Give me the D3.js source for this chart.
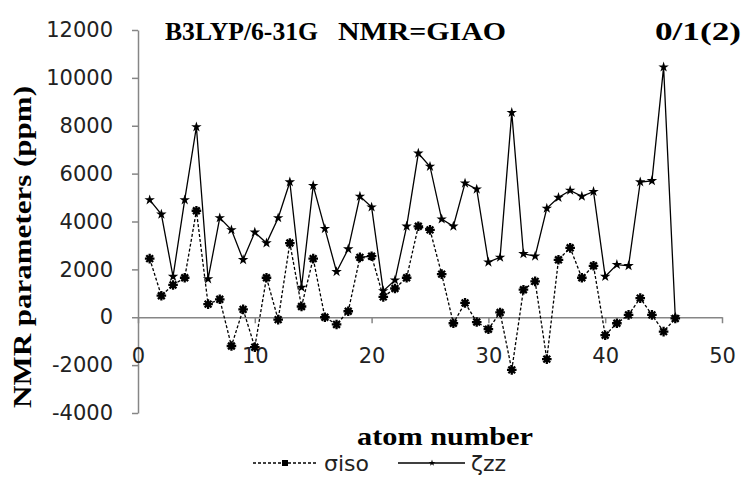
<!DOCTYPE html>
<html>
<head>
<meta charset="utf-8">
<script src="https://cdn.jsdelivr.net/npm/d3@7/dist/d3.min.js"></script>
<style>
  html, body { margin: 0; padding: 0; background: #fff; }
  svg { display: block; }
</style>
</head>
<body>
<svg id="chart" width="743" height="477"></svg>
<script>
// Atom numbers 1..46
const atoms = d3.range(1, 47);

// Isotropic shielding σiso (ppm)
const sigmaIso = [2450, 900, 1350, 1650, 4450, 550, 750, -1200, 330, -1250,
  1650, -100, 3100, 450, 2450, 0, -300, 250, 2500, 2550,
  850, 1200, 1650, 3800, 3650, 1800, -250, 600, -200, -500,
  200, -2200, 1150, 1500, -1750, 2400, 2900, 1650, 2150, -750,
  -250, 100, 800, 100, -600, -50];

// Principal component ζzz (ppm)
const zetaZZ = [4900, 4300, 1700, 4900, 7950, 1600, 4150, 3650, 2400, 3550,
  3100, 4150, 5650, 1250, 5500, 3700, 1900, 2850, 5050, 4600,
  1100, 1550, 3800, 6850, 6300, 4100, 3800, 5600, 5350, 2300,
  2500, 8550, 2650, 2550, 4550, 5000, 5300, 5050, 5250, 1700,
  2200, 2150, 5650, 5700, 10450, 0];

const xTicks = [0, 10, 20, 30, 40, 50];
const yTicks = [-4000, -2000, 0, 2000, 4000, 6000, 8000, 10000, 12000];

const titleParts = ["B3LYP/6-31G", "NMR=GIAO", "0/1(2)"];
const seriesNames = ["σiso", "ζzz"];

const svg = d3.select("#chart");
const axisColor = "#868686";
const tickFont = "'DejaVu Sans', Verdana, sans-serif";
const serif = "'Liberation Serif', 'Times New Roman', serif";
const plain = d => String(d);   // keep ASCII hyphen for negatives

const x = d3.scaleLinear().domain([0, 50]).range([138, 722]);
const y = d3.scaleLinear().domain([-4000, 12000]).range([413, 30]);

// Y axis
const yAxis = svg.append("g")
  .attr("transform", `translate(${x(0)},0)`)
  .call(d3.axisLeft(y).tickValues(yTicks).tickSize(6).tickSizeOuter(0).tickPadding(19)
    .tickFormat(plain));
yAxis.select(".domain").attr("stroke", axisColor).attr("stroke-width", 1.5);
yAxis.selectAll(".tick line").attr("stroke", axisColor).attr("stroke-width", 1.5);
yAxis.selectAll(".tick text")
  .attr("font-family", tickFont).attr("font-size", 21).attr("fill", "#222");

// X axis crossing at zero
const xAxis = svg.append("g")
  .attr("transform", `translate(0,${y(0)})`)
  .call(d3.axisBottom(x).tickValues(xTicks).tickSize(6).tickSizeOuter(0).tickPadding(25)
    .tickFormat(plain));
xAxis.select(".domain").attr("stroke", axisColor).attr("stroke-width", 1.5);
xAxis.selectAll(".tick line").attr("stroke", axisColor).attr("stroke-width", 1.5);
xAxis.selectAll(".tick text")
  .attr("font-family", tickFont).attr("font-size", 21).attr("fill", "#222");

// Series lines
const line = d3.line().x((d, i) => x(atoms[i])).y(d => y(d));

svg.append("path").datum(zetaZZ)
  .attr("fill", "none").attr("stroke", "#000").attr("stroke-width", 1.3)
  .attr("d", line);

svg.append("path").datum(sigmaIso)
  .attr("fill", "none").attr("stroke", "#000").attr("stroke-width", 1.3)
  .attr("stroke-dasharray", "3,2")
  .attr("d", line);

// Asterisk marker path
function asteriskPath(r) {
  const p = d3.path();
  for (let k = 0; k < 4; k++) {
    const a = k * Math.PI / 4;
    p.moveTo(-r * Math.cos(a), -r * Math.sin(a));
    p.lineTo(r * Math.cos(a), r * Math.sin(a));
  }
  return p.toString();
}

const starSym = d3.symbol().type(d3.symbolStar).size(34)();

svg.append("g").selectAll("path").data(zetaZZ).join("path")
  .attr("transform", (d, i) => `translate(${x(atoms[i])},${y(d)})`)
  .attr("d", starSym).attr("fill", "#000");

svg.append("g").selectAll("path").data(sigmaIso).join("path")
  .attr("transform", (d, i) => `translate(${x(atoms[i])},${y(d)})`)
  .attr("d", asteriskPath(4.8)).attr("stroke", "#000").attr("stroke-width", 2.3)
  .attr("fill", "none");

// Title
const titleX = [165, 338, 655];
const titleLen = [153, 168, 86];
svg.append("g").selectAll("text").data(titleParts).join("text")
  .attr("x", (d, i) => titleX[i]).attr("y", 40)
  .attr("textLength", (d, i) => titleLen[i]).attr("lengthAdjust", "spacingAndGlyphs")
  .attr("font-family", serif).attr("font-weight", "bold").attr("font-size", 26)
  .attr("fill", "#000").text(d => d);

// Axis titles
svg.append("text")
  .attr("x", 445).attr("y", 445).attr("text-anchor", "middle")
  .attr("textLength", 176).attr("lengthAdjust", "spacingAndGlyphs")
  .attr("font-family", serif).attr("font-weight", "bold").attr("font-size", 25)
  .attr("fill", "#000").text("atom number");

svg.append("text")
  .attr("transform", "translate(31,247) rotate(-90)")
  .attr("text-anchor", "middle")
  .attr("textLength", 322).attr("lengthAdjust", "spacingAndGlyphs")
  .attr("font-family", serif).attr("font-weight", "bold").attr("font-size", 25)
  .attr("fill", "#000").text("NMR parameters (ppm)");

// Legend
const lg = svg.append("g");
const legY = 463;
lg.append("line").attr("x1", 253).attr("x2", 318).attr("y1", legY).attr("y2", legY)
  .attr("stroke", "#000").attr("stroke-width", 1.3).attr("stroke-dasharray", "3,2");
lg.append("rect").attr("x", 282).attr("y", legY - 3).attr("width", 6).attr("height", 6)
  .attr("fill", "#000");
lg.append("text").attr("x", 324).attr("y", legY + 8)
  .attr("font-family", tickFont).attr("font-size", 22).attr("fill", "#222")
  .text(seriesNames[0]);

lg.append("line").attr("x1", 398).attr("x2", 465).attr("y1", legY).attr("y2", legY)
  .attr("stroke", "#000").attr("stroke-width", 1.3);
lg.append("path").attr("transform", `translate(432,${legY})`)
  .attr("d", d3.symbol().type(d3.symbolStar).size(14)()).attr("fill", "#000");
lg.append("text").attr("x", 471).attr("y", legY + 8)
  .attr("font-family", tickFont).attr("font-size", 22).attr("fill", "#222")
  .text(seriesNames[1]);
</script>
</body>
</html>
